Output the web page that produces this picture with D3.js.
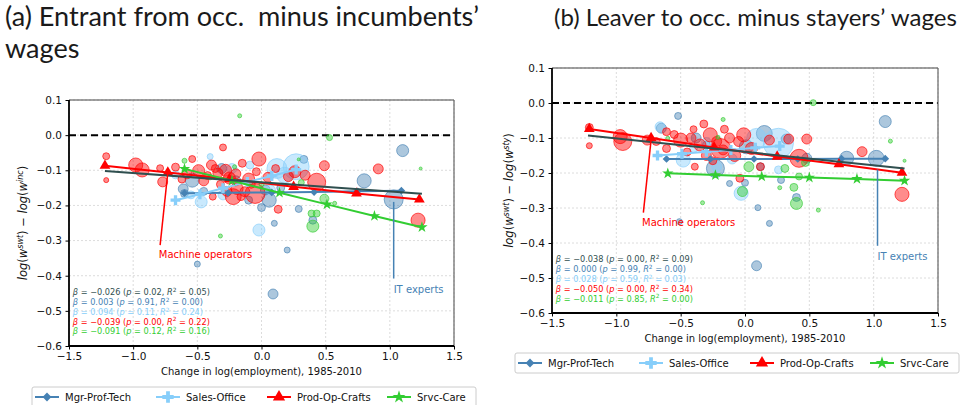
<!DOCTYPE html>
<html>
<head>
<meta charset="utf-8">
<script src="https://cdn.jsdelivr.net/npm/d3@7"></script>
<style>
  body { margin: 0; background: #fff; }
  svg text { font-family: "DejaVu Sans", sans-serif; }
</style>
</head>
<body>
<svg width="961" height="405"></svg>
<script>
const groupNames = ["Mgr-Prof-Tech", "Sales-Office", "Prod-Op-Crafts", "Srvc-Care"]
const xTicks = [-1.5, -1.0, -0.5, 0.0, 0.5, 1.0, 1.5]
const yTicks = [0.1, 0.0, -0.1, -0.2, -0.3, -0.4, -0.5, -0.6]

// bubbles: [change in log(employment), wage gap, employment weight]
const aMgr = [[-0.61,-0.153,11],[-0.54,-0.128,22],[-0.31,-0.095,11],[-0.60,-0.166,7],[-0.10,-0.185,7],
  [1.10,-0.044,16],[0.80,-0.130,22],[1.03,-0.183,40],[0.33,-0.069,7],[0.29,-0.210,5.4],[0.10,-0.251,4],
  [0.20,-0.327,4],[0.40,-0.242,7],[0.06,-0.185,22],[0.00,-0.206,7],[0.03,-0.156,11],[-0.50,-0.367,4],
  [0.09,-0.452,11],[-0.20,-0.130,11],[-0.45,-0.160,7],[0.15,-0.150,7]]
const aSales = [[-0.47,-0.190,16],[-0.40,-0.061,4],[-0.67,-0.113,7],[-0.23,-0.095,11],[-0.09,-0.085,7],
  [0.27,-0.090,75],[0.12,-0.095,44],[0.18,-0.114,28],[-0.02,-0.270,16],[0.07,-0.156,11],[-0.55,-0.170,7],
  [-0.30,-0.170,11]]
const aProd = [[-1.21,-0.060,5.4],[-1.21,-0.128,2.8],[-0.98,-0.085,22],[-0.93,-0.099,22],[-0.79,-0.094,5.4],
  [-0.77,-0.133,11],[-0.67,-0.091,7],[-0.54,-0.068,5.4],[-0.49,-0.101,16],[-0.39,-0.085,11],[-0.30,-0.035,5.4],
  [-0.34,-0.108,11],[-0.15,-0.080,7],[-0.38,-0.175,5.4],[-0.19,-0.152,16],[-0.25,-0.122,16],[-0.13,-0.161,11],
  [-0.02,-0.068,22],[-0.04,-0.104,7],[0.11,-0.095,7],[0.26,-0.104,16],[0.34,-0.114,11],[0.43,-0.134,36],
  [0.49,-0.087,11],[0.91,-0.096,11],[1.22,-0.242,22],[0.13,-0.211,7],[-0.05,-0.166,44],[-0.22,-0.175,28],
  [0.21,-0.118,11],[-0.45,-0.130,11],[-0.42,-0.115,7],[-0.28,-0.100,16],[-0.20,-0.110,11],[-0.10,-0.125,16],
  [-0.32,-0.140,7],[-0.58,-0.110,11],[-0.62,-0.125,7],[-0.27,-0.160,11],[-0.08,-0.140,7],[-0.36,-0.095,7],
  [-0.16,-0.175,7],[0.05,-0.120,11]]
const aSrvc = [[-0.60,-0.073,2.8],[-0.17,0.055,1.8],[-0.32,-0.287,1.8],[-0.21,-0.090,1.8],[0.53,-0.007,4],
  [1.24,-0.095,1],[0.49,-0.181,9],[0.57,-0.194,1.8],[0.39,-0.223,5.4],[0.43,-0.223,5.4],[0.40,-0.259,16],
  [0.29,-0.069,1],[0.31,-0.135,4],[-0.40,-0.120,2.8],[0.00,-0.140,2.8]]

const bMgr = [[-0.52,-0.037,5.4],[-0.65,-0.072,11],[-0.23,-0.187,36],[-0.51,-0.339,4],[-0.12,-0.230,4],
  [1.09,-0.053,16],[1.02,-0.158,28],[0.79,-0.158,22],[0.15,-0.087,28],[0.32,-0.103,11],[0.12,-0.182,7],
  [0.28,-0.220,5.4],[0.40,-0.270,7],[0.10,-0.299,4],[0.19,-0.344,4],[0.00,-0.228,5.4],[0.48,-0.158,11],
  [0.01,-0.125,22],[0.09,-0.465,11],[-0.38,-0.100,11],[-0.30,-0.120,7]]
const bSales = [[-0.48,-0.163,22],[-0.66,-0.068,11],[-0.30,-0.113,11],[-0.22,-0.182,11],[0.26,-0.115,100],
  [0.09,-0.101,44],[-0.03,-0.258,22],[0.26,-0.191,7],[-0.10,-0.160,11],[-0.40,-0.130,7]]
const bProd = [[-1.21,-0.070,7],[-1.21,-0.122,4],[-0.95,-0.110,36],[-0.97,-0.096,22],[-0.76,-0.106,11],
  [-0.69,-0.110,7],[-0.61,-0.082,7],[-0.61,-0.130,7],[-0.50,-0.106,22],[-0.32,-0.060,7],[-0.39,-0.182,5.4],
  [-0.27,-0.091,22],[-0.16,-0.075,7],[-0.17,-0.134,11],[-0.01,-0.091,22],[-0.05,-0.110,11],[0.19,-0.106,11],
  [0.34,-0.103,11],[0.48,-0.103,11],[0.42,-0.158,36],[0.91,-0.139,11],[1.22,-0.261,22],[-0.04,-0.215,7],
  [0.12,-0.182,7],[-0.19,-0.130,44],[-0.42,-0.100,11],[-0.35,-0.120,16],[-0.22,-0.110,11],[-0.12,-0.100,11],
  [-0.45,-0.140,7],[-0.30,-0.150,11],[-0.08,-0.150,16],[-0.55,-0.090,7],[-0.25,-0.165,7],[0.05,-0.130,16],
  [-0.40,-0.075,5.4]]
const bSrvc = [[0.53,0.001,4],[-0.17,-0.047,1.8],[1.13,-0.109,1.8],[1.24,-0.165,1],[0.03,-0.182,11],
  [0.31,-0.187,7],[0.42,-0.210,5.4],[0.47,-0.170,7],[0.38,-0.241,7],[-0.02,-0.253,11],[0.40,-0.287,16],
  [0.27,-0.242,1.8],[0.57,-0.306,1.8],[-0.33,-0.285,1.8],[-0.21,-0.098,1.8],[-0.60,-0.101,1.8]]

// fitted lines per group, read at the marker points
const aMgrFit = [[-0.60,-0.165],[-0.26,-0.164],[0.08,-0.163],[0.41,-0.162],[0.75,-0.160],[1.09,-0.158]]
const aSalesFit = [[-0.67,-0.185],[-0.48,-0.168],[-0.30,-0.151],[-0.11,-0.133],[0.08,-0.116],[0.27,-0.098]]
const aProdFit = [[-1.22,-0.087],[-0.73,-0.106],[-0.25,-0.125],[0.25,-0.147],[0.74,-0.166],[1.23,-0.183]]
const aSrvcFit = [[-0.60,-0.096],[-0.23,-0.130],[0.14,-0.164],[0.51,-0.197],[0.88,-0.230],[1.25,-0.262]]
const aAllFit = [[-1.22,-0.102],[1.25,-0.167]]

const bMgrFit = [[-0.61,-0.160],[-0.27,-0.160],[0.07,-0.160],[0.41,-0.160],[0.75,-0.159],[1.09,-0.159]]
const bSalesFit = [[-0.68,-0.150],[-0.49,-0.145],[-0.30,-0.139],[-0.11,-0.134],[0.08,-0.128],[0.27,-0.123]]
const bProdFit = [[-1.21,-0.074],[-0.73,-0.100],[-0.24,-0.127],[0.25,-0.153],[0.73,-0.175],[1.22,-0.199]]
const bSrvcFit = [[-0.60,-0.201],[-0.23,-0.206],[0.13,-0.210],[0.50,-0.213],[0.87,-0.217],[1.24,-0.222]]
const bAllFit = [[-1.22,-0.093],[1.24,-0.187]]

// [beta, p, R2] : overall, then the four groups
const aStats = [["−0.026","0.02","0.05"],["0.003","0.91","0.00"],["0.094","0.11","0.24"],["−0.039","0.00","0.22"],["−0.091","0.12","0.16"]]
const bStats = [["−0.038","0.00","0.09"],["0.000","0.99","0.00"],["0.028","0.59","0.03"],["−0.050","0.00","0.34"],["−0.011","0.85","0.00"]]

const colors = ["#4682B4", "#87CEFA", "#FF0000", "#32CD32"]
const allColor = "#2F4F4F"
const statColors = [allColor].concat(colors)
const symbols = [d3.symbolSquare, d3.symbolCross, d3.symbolTriangle, d3.symbolStar]
const symSizes = [30, 55, 50, 40]
const symRot = [45, 0, 0, 0]

const svg = d3.select("svg")

// titles, each fitted to the width it takes in the original
const addTitle = (txt, x, y, target) => {
  const t = svg.append("text").attr("x", x).attr("y", y).style("white-space", "pre")
    .style("font-family", "Lato, sans-serif").style("font-size", "25px").attr("fill", "#1a1a1a")
    .text(txt)
  if (target) t.style("font-size", (25 * target / t.node().getComputedTextLength()) + "px")
  return t
}
const t1 = addTitle("(a) Entrant from occ.  minus incumbents’", 5, 26, 474)
addTitle("wages", 5, 58).style("font-size", t1.style("font-size"))
addTitle("(b) Leaver to occ. minus stayers’ wages", 554, 26, 403)

const panels = [
  {
    left: 69, top: 100, width: 385, height: 246, ylabOff: 42, legendTop: 387,
    sup2: "inc",
    bubbles: [aMgr, aSales, aProd, aSrvc], fits: [aMgrFit, aSalesFit, aProdFit, aSrvcFit], all: aAllFit,
    stats: aStats
  },
  {
    left: 552, top: 68, width: 386, height: 245, ylabOff: 39, legendTop: 353,
    sup2: "sty",
    bubbles: [bMgr, bSales, bProd, bSrvc], fits: [bMgrFit, bSalesFit, bProdFit, bSrvcFit], all: bAllFit,
    stats: bStats
  }
]

const notes = [
  { label: "Machine operators", color: "#FF0000", tx: -0.80, ty: -0.350, x0: -0.79, y0: -0.313, x1: -0.73, y1: -0.106 },
  { label: "IT experts", color: "#4682B4", tx: 1.03, ty: -0.449, x0: 1.03, y0: -0.408, x1: 1.03, y1: -0.19 }
]

const drawPanel = (p) => {
  const x = d3.scaleLinear().domain([-1.5, 1.5]).range([p.left, p.left + p.width])
  const y = d3.scaleLinear().domain([-0.6, 0.1]).range([p.top + p.height, p.top])
  const r = d3.scaleSqrt().domain([0, 100]).range([0, 15])
  const g = svg.append("g")

  // grid
  g.selectAll(".gx").data(xTicks).join("line")
    .attr("x1", d => x(d)).attr("x2", d => x(d)).attr("y1", p.top).attr("y2", p.top + p.height)
    .attr("stroke", "#d3d3d3").attr("stroke-width", 0.8).attr("stroke-dasharray", "2,2")
  g.selectAll(".gy").data(yTicks).join("line")
    .attr("y1", d => y(d)).attr("y2", d => y(d)).attr("x1", p.left).attr("x2", p.left + p.width)
    .attr("stroke", "#d3d3d3").attr("stroke-width", 0.8).attr("stroke-dasharray", "2,2")

  // zero line
  g.append("line").attr("x1", p.left).attr("x2", p.left + p.width).attr("y1", y(0)).attr("y2", y(0))
    .attr("stroke", "#000").attr("stroke-width", 2).attr("stroke-dasharray", "7,4")

  // bubbles
  p.bubbles.forEach((pts, i) => {
    g.append("g").selectAll("circle").data(pts).join("circle")
      .attr("cx", d => x(d[0])).attr("cy", d => y(d[1])).attr("r", d => r(d[2]))
      .attr("fill", colors[i]).attr("fill-opacity", 0.45)
      .attr("stroke", colors[i]).attr("stroke-opacity", 0.65).attr("stroke-width", 1)
  })

  // fitted lines
  const line = d3.line().x(d => x(d[0])).y(d => y(d[1]))
  p.fits.forEach((pts, i) => {
    g.append("path").attr("d", line(pts)).attr("fill", "none").attr("stroke", colors[i]).attr("stroke-width", 2)
    g.append("g").selectAll("path").data(pts).join("path")
      .attr("d", d3.symbol().type(symbols[i]).size(symSizes[i]))
      .attr("transform", d => `translate(${x(d[0])},${y(d[1])}) rotate(${symRot[i]})`)
      .attr("fill", colors[i])
  })
  g.append("path").attr("d", line(p.all)).attr("fill", "none").attr("stroke", allColor).attr("stroke-width", 2)

  // annotations
  notes.forEach(n => {
    g.append("line").attr("x1", x(n.x0)).attr("y1", y(n.y0)).attr("x2", x(n.x1)).attr("y2", y(n.y1))
      .attr("stroke", n.color).attr("stroke-width", 1.5)
    g.append("text").attr("x", x(n.tx)).attr("y", y(n.ty)).attr("fill", n.color)
      .style("font-size", "10px").text(n.label)
  })

  // stats text
  p.stats.forEach((s, i) => {
    const t = g.append("text").attr("x", x(-1.47)).attr("y", y(-0.447) + 3 + i * 9.8)
      .attr("fill", statColors[i]).style("font-size", "8.2px").style("white-space", "pre")
    t.append("tspan").style("font-style", "italic").text("β")
    t.append("tspan").text(" = " + s[0] + " (")
    t.append("tspan").style("font-style", "italic").text("p")
    t.append("tspan").text(" = " + s[1] + ", ")
    t.append("tspan").style("font-style", "italic").text("R")
    t.append("tspan").attr("dy", -3.2).style("font-size", "5.8px").text("2")
    t.append("tspan").attr("dy", 3.2).text(" = " + s[2] + ")")
  })

  // spines
  g.append("line").attr("x1", p.left).attr("x2", p.left + p.width).attr("y1", p.top).attr("y2", p.top)
    .attr("stroke", "#444").attr("stroke-width", 1.2)
  g.append("line").attr("x1", p.left + p.width).attr("x2", p.left + p.width).attr("y1", p.top).attr("y2", p.top + p.height)
    .attr("stroke", "#666").attr("stroke-width", 1.2)

  // axes
  const fmt = d3.format(".1f")
  const xAxis = g.append("g").attr("transform", `translate(0,${p.top + p.height})`)
    .call(d3.axisBottom(x).tickValues(xTicks).tickFormat(fmt).tickSize(3.5).tickPadding(3.5))
  const yAxis = g.append("g").attr("transform", `translate(${p.left},0)`)
    .call(d3.axisLeft(y).tickValues(yTicks).tickFormat(fmt).tickSize(3.5).tickPadding(3.5))
  ;[xAxis, yAxis].forEach(a => {
    a.select(".domain").attr("stroke", "#000").attr("stroke-width", 1.8)
    a.selectAll("text").style("font-size", "10.5px").style("font-family", "'DejaVu Sans', sans-serif").attr("fill", "#111")
  })
  xAxis.select(".domain").attr("d", `M${p.left},0H${p.left + p.width}`)
  yAxis.select(".domain").attr("d", `M0,${p.top}V${p.top + p.height}`)

  // axis labels
  g.append("text").attr("x", p.left + p.width / 2).attr("y", p.top + p.height + 28.5)
    .attr("text-anchor", "middle").style("font-size", "10px").attr("fill", "#111")
    .text("Change in log(employment), 1985-2010")
  const yl = g.append("text")
    .attr("transform", `translate(${p.left - p.ylabOff},${p.top + p.height / 2}) rotate(-90)`)
    .attr("text-anchor", "middle").style("font-size", "11.5px").attr("fill", "#111")
  yl.append("tspan").style("font-style", "italic").text("log")
  yl.append("tspan").text("(")
  yl.append("tspan").style("font-style", "italic").text("w")
  yl.append("tspan").attr("dy", -4.5).style("font-size", "8px").style("font-style", "italic").text("swt")
  yl.append("tspan").attr("dy", 4.5).text(") − ")
  yl.append("tspan").style("font-style", "italic").text("log")
  yl.append("tspan").text("(")
  yl.append("tspan").style("font-style", "italic").text("w")
  yl.append("tspan").attr("dy", -4.5).style("font-size", "8px").style("font-style", "italic").text(p.sup2)
  yl.append("tspan").attr("dy", 4.5).text(")")

  // legend
  const lx = [33, 154, 265, 385]
  const lg = g.append("g").attr("transform", `translate(${p.left - 37},${p.legendTop})`)
  lg.append("rect").attr("x", 0).attr("y", 0).attr("width", 444).attr("height", 20).attr("rx", 2)
    .attr("fill", "#fff").attr("stroke", "#ccc").attr("stroke-width", 1)
  groupNames.forEach((name, i) => {
    lg.append("line").attr("x1", lx[i] - 30).attr("x2", lx[i] - 6).attr("y1", 10).attr("y2", 10)
      .attr("stroke", colors[i]).attr("stroke-width", 2)
    lg.append("path").attr("d", d3.symbol().type(symbols[i]).size(symSizes[i] * 1.3)())
      .attr("transform", `translate(${lx[i] - 18},10) rotate(${symRot[i]})`).attr("fill", colors[i])
    lg.append("text").attr("x", lx[i]).attr("y", 13.5).style("font-size", "10px").attr("fill", "#111").text(name)
  })
}

panels.forEach(drawPanel)
</script>
</body>
</html>
